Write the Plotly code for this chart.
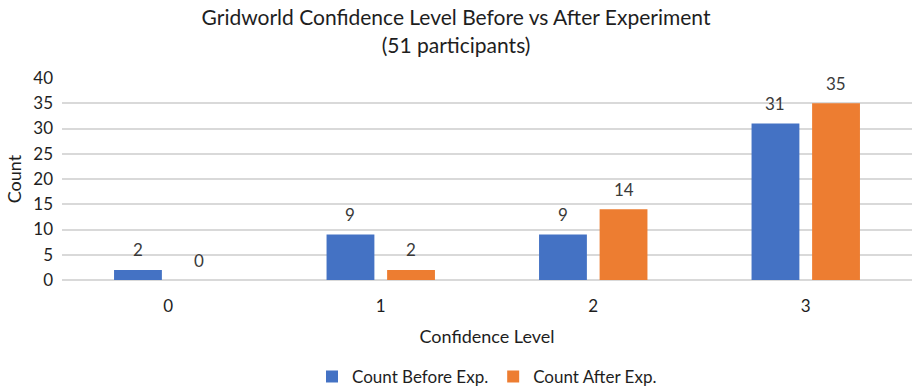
import plotly.graph_objects as go

# Survey data: confidence level counts before and after the experiment
levels = ["0", "1", "2", "3"]
count_before = [2, 9, 9, 31]
count_after = [0, 2, 14, 35]
series_names = ["Count Before Exp.", "Count After Exp."]
y_ticks = [0, 5, 10, 15, 20, 25, 30, 35, 40]

BLUE = "#4472C4"
ORANGE = "#ED7D31"
TEXT = "#1e1e1e"
GRID = "#D9D9D9"
FONT = "Lato"

BARGAP = 0.43
BARGROUPGAP = 0.21
PLOT_LEFT, PLOT_RIGHT = 62, 0
WIDTH, HEIGHT = 912, 389

fig = go.Figure()
fig.add_trace(go.Bar(x=levels, y=count_before, name=series_names[0],
                     marker=dict(color=BLUE, line=dict(width=0))))
fig.add_trace(go.Bar(x=levels, y=count_after, name=series_names[1],
                     marker=dict(color=ORANGE, line=dict(width=0))))

# Value labels above each bar, shifted to the bar's slot within its group
cat_px = (WIDTH - PLOT_LEFT - PLOT_RIGHT) / len(levels)
slot_px = cat_px * (1 - BARGAP) / 2
for values, shift in ((count_before, -slot_px / 2), (count_after, slot_px / 2)):
    for lvl, v in zip(levels, values):
        fig.add_annotation(x=lvl, y=v, text=str(v), showarrow=False,
                           xshift=shift, yshift=20, yanchor="middle",
                           font=dict(family=FONT, size=17, color="#3a3a3a"))

fig.update_layout(
    width=WIDTH, height=HEIGHT,
    margin=dict(l=PLOT_LEFT, r=PLOT_RIGHT, t=78, b=109, autoexpand=False),
    paper_bgcolor="white", plot_bgcolor="white",
    barmode="group", bargap=BARGAP, bargroupgap=BARGROUPGAP,
    font=dict(family=FONT, color=TEXT),
    title=dict(text="Gridworld Confidence Level Before vs After Experiment<br>(51 participants)",
               x=0.5, xref="container", xanchor="center",
               y=0.935, yref="container", yanchor="top",
               font=dict(family=FONT, size=21, color=TEXT)),
    showlegend=True,
    legend=dict(orientation="h", x=0.5, xanchor="center",
                y=0.031, yref="container", yanchor="middle",
                font=dict(family=FONT, size=17, color=TEXT), itemwidth=30,
                traceorder="normal"),
    xaxis=dict(type="category", showgrid=False, zeroline=False, showline=False,
               ticks="", ticklabelstandoff=14, tickfont=dict(family=FONT, size=17, color=TEXT),
               title=dict(text="Confidence Level", standoff=15,
                          font=dict(family=FONT, size=18, color=TEXT))),
    yaxis=dict(range=[0, 40], tickvals=y_ticks, showgrid=True, gridcolor=GRID, gridwidth=1.5,
               zeroline=True, zerolinecolor=GRID, zerolinewidth=1.5, showline=False,
               ticks="", ticklabelstandoff=8, tickfont=dict(family=FONT, size=17, color=TEXT),
               title=dict(text="Count", standoff=6,
                          font=dict(family=FONT, size=18, color=TEXT))),
)

fig.write_html("out.html")
